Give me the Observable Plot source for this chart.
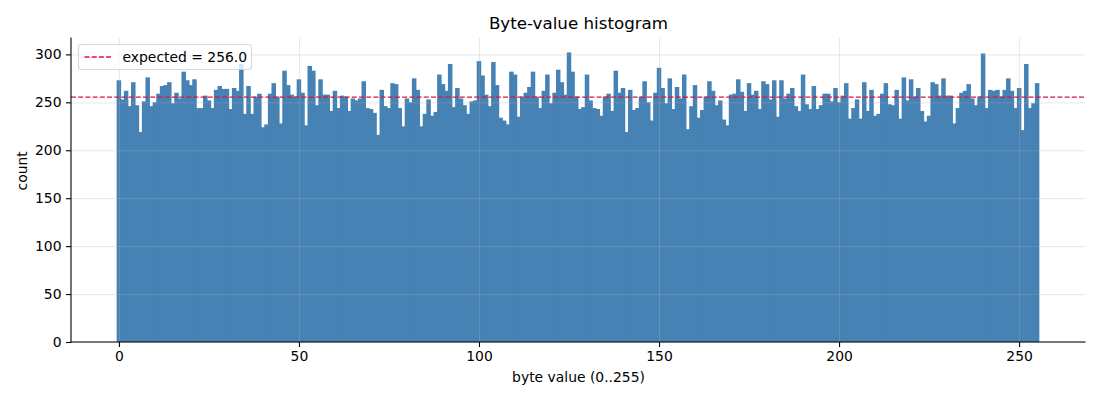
<!DOCTYPE html>
<html>
<head>
<meta charset="utf-8">
<script src="https://cdn.jsdelivr.net/npm/d3@7"></script>
<script src="https://cdn.jsdelivr.net/npm/@observablehq/plot@0.6"></script>
<style>
  html, body { margin: 0; padding: 0; background: #ffffff; }
</style>
</head>
<body>
<div id="chart"></div>
<script>
// ---- data ----
const byteValues = d3.range(256);
const counts = [
  273,253,262,246,271,247,219,251,276,246,250,259,267,268,271,249,
  260,254,282,273,268,274,244,244,257,252,244,263,267,264,264,243,
  265,262,290,238,267,238,256,259,224,227,259,270,256,228,283,268,
  258,256,274,260,226,288,283,247,274,258,258,241,262,244,257,256,
  241,254,252,254,272,244,243,239,216,263,246,244,270,269,244,225,
  254,250,275,263,225,238,253,236,240,279,269,262,290,245,265,254,
  247,238,251,252,293,278,258,246,292,268,234,231,227,282,279,235,
  256,260,266,282,256,244,262,279,249,260,284,271,258,302,282,256,
  243,245,279,252,244,243,236,256,259,241,283,260,265,219,263,242,
  244,256,272,250,231,260,286,265,249,275,243,266,254,279,222,246,
  268,234,242,256,272,262,247,252,232,226,258,259,274,261,241,270,
  258,262,243,272,269,253,273,235,273,254,259,265,246,241,279,248,
  243,267,243,247,259,259,251,265,250,257,270,233,244,253,233,271,
  241,263,236,238,259,270,248,247,263,233,276,252,274,256,265,241,
  230,236,271,269,257,275,257,257,228,244,260,262,269,254,247,256,
  301,244,263,262,263,256,263,275,262,244,265,221,290,244,249,270
];
const expected = 256;
const xTicks = [0, 50, 100, 150, 200, 250];
const yTicks = [0, 50, 100, 150, 200, 250, 300];
const titleText = "Byte-value histogram";
const xLabel = "byte value (0..255)";
const yLabel = "count";
const legendLabel = "expected = " + expected.toFixed(1);

const table = byteValues.map((b, i) => ({byte: b, count: counts[i]}));

// ---- styles ----
const barColor = "#4682b4";
const lineColor = "#dc143c";
const gridColor = "#b0b0b0";
const FONT = "DejaVu Sans";

function spines(index, scales, values, dims) {
  const g = d3.create("svg:g");
  const l = dims.marginLeft, t = dims.marginTop;
  const r = dims.width - dims.marginRight, b = dims.height - dims.marginBottom;
  g.append("line").attr("x1", l).attr("x2", l).attr("y1", t).attr("y2", b)
    .attr("stroke", "black").attr("stroke-width", 1.1).attr("stroke-linecap", "square");
  g.append("line").attr("x1", l).attr("x2", r).attr("y1", b).attr("y2", b)
    .attr("stroke", "black").attr("stroke-width", 1.1).attr("stroke-linecap", "square");
  return g.node();
}

function legend(index, scales, values, dims) {
  const g = d3.create("svg:g");
  const x0 = dims.marginLeft + 7.5, y0 = dims.marginTop + 6.5;
  g.append("rect").attr("x", x0).attr("y", y0).attr("width", 173).attr("height", 25)
    .attr("rx", 3).attr("fill", "white").attr("fill-opacity", 0.8)
    .attr("stroke", "#cccccc").attr("stroke-opacity", 0.8).attr("stroke-width", 1.1);
  g.append("line").attr("x1", x0 + 6).attr("x2", x0 + 34).attr("y1", y0 + 12.5).attr("y2", y0 + 12.5)
    .attr("stroke", lineColor).attr("stroke-width", 1.3).attr("stroke-dasharray", "5,2.2");
  g.append("text").attr("x", x0 + 44).attr("y", y0 + 12.5).attr("dy", "0.35em")
    .attr("text-anchor", "start")
    .attr("font-family", FONT).attr("font-size", 13.9).attr("fill", "black")
    .text(legendLabel);
  return g.node();
}

const chart = Plot.plot({
  width: 1100,
  height: 400,
  marginLeft: 71,
  marginRight: 15,
  marginTop: 38,
  marginBottom: 58,
  style: {fontFamily: FONT, fontSize: "13.9px", color: "black", background: "white"},
  x: {domain: [-13.3, 268.3]},
  y: {domain: [0, 317.1]},
  marks: [
    Plot.rect(table, {
      x1: d => d.byte - 0.5, x2: d => d.byte + 0.5, y1: 0, y2: "count",
      fill: barColor, insetLeft: -0.45, insetRight: -0.45
    }),
    Plot.gridX(xTicks, {stroke: gridColor, strokeOpacity: 0.3, strokeWidth: 1}),
    Plot.gridY(yTicks, {stroke: gridColor, strokeOpacity: 0.3, strokeWidth: 1}),
    Plot.ruleY([expected], {stroke: lineColor, strokeWidth: 1.3, strokeDasharray: "5,2.2"}),
    Plot.axisX(xTicks, {tickSize: 5, tickPadding: 4, label: null, strokeWidth: 1.1, fontSize: 13.9}),
    Plot.axisY(yTicks, {tickSize: 5, tickPadding: 5, label: null, strokeWidth: 1.1, fontSize: 13.9}),
    spines,
    legend,
    Plot.text([titleText], {frameAnchor: "top", dy: -14.5, lineAnchor: "middle", fontSize: 16.7, fill: "black"}),
    Plot.text([xLabel], {frameAnchor: "bottom", dy: 35, lineAnchor: "middle", fontSize: 13.9, fill: "black"}),
    Plot.text([yLabel], {frameAnchor: "left", dx: -49, rotate: -90, lineAnchor: "middle", fontSize: 13.9, fill: "black"})
  ]
});
document.getElementById("chart").appendChild(chart);
</script>
</body>
</html>
